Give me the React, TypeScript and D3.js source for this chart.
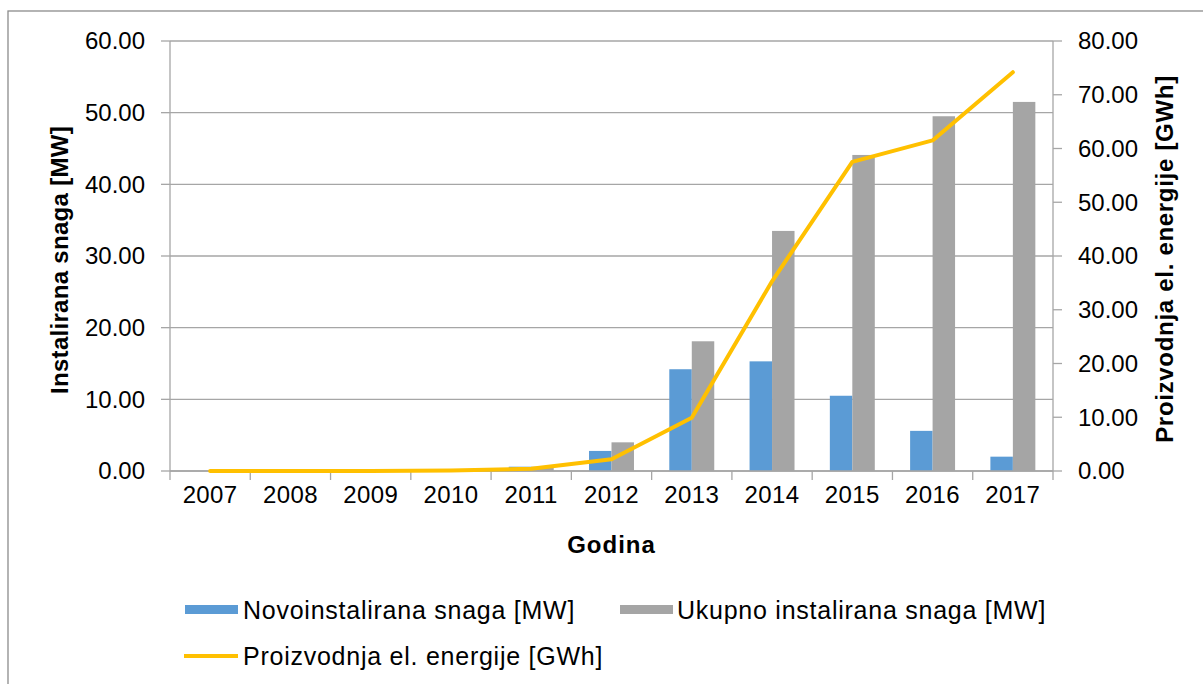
import React from 'react';
import * as d3 from 'd3';

const years = ['2007', '2008', '2009', '2010', '2011', '2012', '2013', '2014', '2015', '2016', '2017'];
const newCapacity = [0, 0, 0, 0, 0.6, 2.8, 14.2, 15.3, 10.5, 5.6, 2.0];
const totalCapacity = [0, 0, 0, 0, 0.6, 4.0, 18.1, 33.5, 44.1, 49.5, 51.5];
const production = [0, 0, 0, 0.1, 0.4, 2.2, 9.9, 35.3, 57.5, 61.5, 74.2];
const leftTicks = [0, 10, 20, 30, 40, 50, 60];
const rightTicks = [0, 10, 20, 30, 40, 50, 60, 70, 80];

const W = 1203;
const H = 684;
const plot = { left: 170, right: 1053, top: 41, bottom: 471 };
const font = 'Arial, "Liberation Sans", sans-serif';

const App = () => {
  // scales
  const x = d3.scaleBand().domain(years).range([plot.left, plot.right]).padding(0);
  const bw = x.bandwidth();
  const xSub = d3.scaleBand().domain(['new', 'total']).range([bw * 0.22, bw * 0.78]).padding(0);
  const yL = d3.scaleLinear().domain([0, 60]).range([plot.bottom, plot.top]);
  const yR = d3.scaleLinear().domain([0, 80]).range([plot.bottom, plot.top]);

  const line = d3.line<number>()
    .x((d, i) => (x(years[i]) as number) + bw / 2)
    .y(d => yR(d));

  const axisColor = '#a6a6a6';

  return (
    <svg width={W} height={H} style={{ position: 'absolute', left: 0, top: 0, background: '#fff' }}
      fontFamily={font}>
      <rect x={8} y={11} width={1210} height={700} fill="#fff" stroke="#8c8c8c" strokeWidth={1.3} />

      {/* gridlines */}
      {leftTicks.map(t => (
        <line key={'g' + t} x1={plot.left} x2={plot.right} y1={yL(t)} y2={yL(t)} stroke={axisColor} strokeWidth={1.3} />
      ))}

      {/* bars */}
      {years.map((yr, i) => (
        <g key={yr} transform={`translate(${x(yr)},0)`}>
          <rect x={xSub('new')} width={xSub.bandwidth()} y={yL(newCapacity[i])}
            height={plot.bottom - yL(newCapacity[i])} fill="#5b9bd5" />
          <rect x={xSub('total')} width={xSub.bandwidth()} y={yL(totalCapacity[i])}
            height={plot.bottom - yL(totalCapacity[i])} fill="#a5a5a5" />
        </g>
      ))}

      {/* axes */}
      <line x1={plot.left} x2={plot.left} y1={plot.top} y2={plot.bottom} stroke={axisColor} strokeWidth={1.3} />
      <line x1={plot.right} x2={plot.right} y1={plot.top} y2={plot.bottom} stroke={axisColor} strokeWidth={1.3} />
      <line x1={plot.left} x2={plot.right} y1={plot.bottom} y2={plot.bottom} stroke={axisColor} strokeWidth={1.3} />

      {leftTicks.map(t => (
        <g key={'l' + t}>
          <line x1={plot.left - 9} x2={plot.left} y1={yL(t)} y2={yL(t)} stroke={axisColor} strokeWidth={1.3} />
          <text x={145} y={yL(t)} dy="0.35em" textAnchor="end" fontSize={24} fill="#000">{t.toFixed(2)}</text>
        </g>
      ))}
      {rightTicks.map(t => (
        <g key={'r' + t}>
          <line x1={plot.right} x2={plot.right + 9} y1={yR(t)} y2={yR(t)} stroke={axisColor} strokeWidth={1.3} />
          <text x={1078} y={yR(t)} dy="0.35em" textAnchor="start" fontSize={24} fill="#000">{t.toFixed(2)}</text>
        </g>
      ))}
      {years.map(yr => (
        <text key={'x' + yr} x={(x(yr) as number) + bw / 2} y={503} textAnchor="middle" fontSize={24}
          letterSpacing={0.4} fill="#000">{yr}</text>
      ))}
      {d3.range(years.length + 1).map(k => (
        <line key={'xt' + k} x1={plot.left + k * bw} x2={plot.left + k * bw} y1={plot.bottom} y2={plot.bottom + 9}
          stroke={axisColor} strokeWidth={1.3} />
      ))}

      {/* production line */}
      <path d={line(production) || ''} fill="none" stroke="#ffc000" strokeWidth={4} strokeLinejoin="round" strokeLinecap="round" />

      {/* axis titles */}
      <text transform={`translate(68,${(plot.top + plot.bottom) / 2 + 4}) rotate(-90)`} textAnchor="middle"
        fontSize={24} fontWeight="bold" letterSpacing={0.3} fill="#000">Instalirana snaga [MW]</text>
      <text transform={`translate(1173,${(plot.top + plot.bottom) / 2 + 3}) rotate(-90)`} textAnchor="middle"
        fontSize={24} fontWeight="bold" letterSpacing={0.7} fill="#000">Proizvodnja el. energije [GWh]</text>
      <text x={(plot.left + plot.right) / 2} y={553} textAnchor="middle" fontSize={24} fontWeight="bold"
        letterSpacing={1} fill="#000">Godina</text>

      {/* legend */}
      <rect x={185} y={605} width={53} height={9} fill="#5b9bd5" />
      <text x={243} y={610} dy="0.35em" fontSize={25} letterSpacing={0.75} fill="#000">Novoinstalirana snaga [MW]</text>
      <rect x={620} y={605} width={53} height={9} fill="#a5a5a5" />
      <text x={677} y={610} dy="0.35em" fontSize={25} letterSpacing={0.75} fill="#000">Ukupno instalirana snaga [MW]</text>
      <line x1={184} x2={238} y1={656} y2={656} stroke="#ffc000" strokeWidth={4} />
      <text x={243} y={656} dy="0.35em" fontSize={25} letterSpacing={0.75} fill="#000">Proizvodnja el. energije [GWh]</text>
    </svg>
  );
};

export default App;
